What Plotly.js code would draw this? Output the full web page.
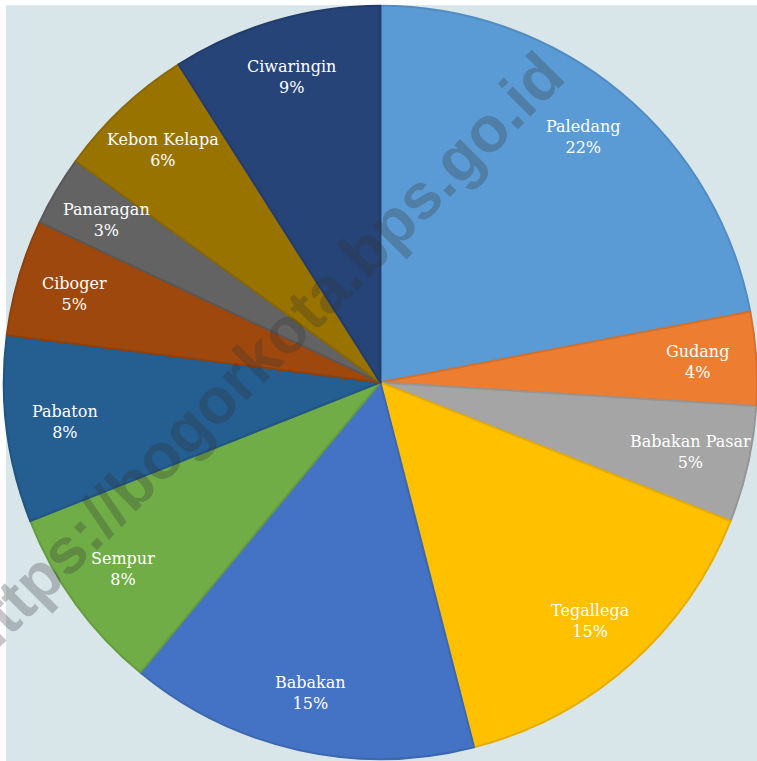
<!DOCTYPE html>
<html>
<head>
<meta charset="utf-8">
<script src="https://cdn.plot.ly/plotly-3.0.1.min.js"></script>
<style>html,body{margin:0;padding:0;background:#fff;}#chart{width:757px;height:761px;}</style>
</head>
<body>
<div id="chart"></div>
<script>
const labels = ["Paledang","Gudang","Babakan Pasar","Tegallega","Babakan","Sempur","Pabaton","Ciboger","Panaragan","Kebon Kelapa","Ciwaringin"];
const values = [22,4,5,15,15,8,8,5,3,6,9];
const colors = ["#5B9BD5","#ED7D31","#A5A5A5","#FFC000","#4472C4","#70AD47","#255E91","#9E480E","#636363","#997300","#264478"];

const W = 757, H = 761;
const dom = {x: [0.005, 1], y: [0, 0.995]};

function darken(hex, f) {
  const n = parseInt(hex.slice(1), 16);
  const r = Math.round(((n >> 16) & 255) * f), g = Math.round(((n >> 8) & 255) * f), b = Math.round((n & 255) * f);
  return "rgb(" + r + "," + g + "," + b + ")";
}

const trace = {
  type: "pie",
  labels: labels,
  values: values,
  sort: false,
  direction: "clockwise",
  rotation: 0,
  marker: {colors: colors, line: {color: colors.map(c => darken(c, 0.9)), width: 2}},
  textinfo: "none",
  hoverinfo: "label+percent",
  showlegend: false,
  domain: dom
};

// label placement along each slice bisector, derived from the values
const pxW = (dom.x[1] - dom.x[0]) * W, pxH = (dom.y[1] - dom.y[0]) * H;
const R = Math.min(pxW, pxH) / 2;
const cx = (dom.x[0] + dom.x[1]) / 2 * W;
const cy = H - (dom.y[0] + dom.y[1]) / 2 * H;
const total = values.reduce((a, b) => a + b, 0);
const labelR = 0.845 * R;
let cum = 0;
const labelAnns = labels.map((lab, i) => {
  const mid = (cum + values[i] / 2) / total * 2 * Math.PI;
  cum += values[i];
  const px = cx + labelR * Math.sin(mid);
  const py = cy - labelR * Math.cos(mid);
  return {
    text: lab + "<br>" + Math.round(values[i] / total * 100) + "%",
    xref: "paper", yref: "paper", x: px / W, y: 1 - py / H,
    xanchor: "center", yanchor: "middle", showarrow: false, align: "center",
    font: {family: "DejaVu Serif, Liberation Serif, serif", size: 16, color: "#ffffff"}
  };
});

const layout = {
  width: W,
  height: H,
  margin: {l: 0, r: 0, t: 0, b: 0},
  paper_bgcolor: "#ffffff",
  shapes: [{
    type: "rect", xref: "paper", yref: "paper", x0: 0.008, x1: 1, y0: 0, y1: 0.993,
    fillcolor: "#d8e6ea", line: {width: 0}, layer: "below"
  }],
  annotations: labelAnns.concat([{
    text: "https://bogorkota.bps.go.id",
    xref: "paper", yref: "paper", x: 0.342, y: 0.531,
    xanchor: "center", yanchor: "middle",
    showarrow: false, textangle: -45,
    font: {family: "Liberation Sans, Arial, sans-serif", size: 64, color: "rgba(50,50,50,0.28)", weight: "bold"}
  }])
};

Plotly.newPlot("chart", [trace], layout, {displayModeBar: false, staticPlot: true});
</script>
</body>
</html>
